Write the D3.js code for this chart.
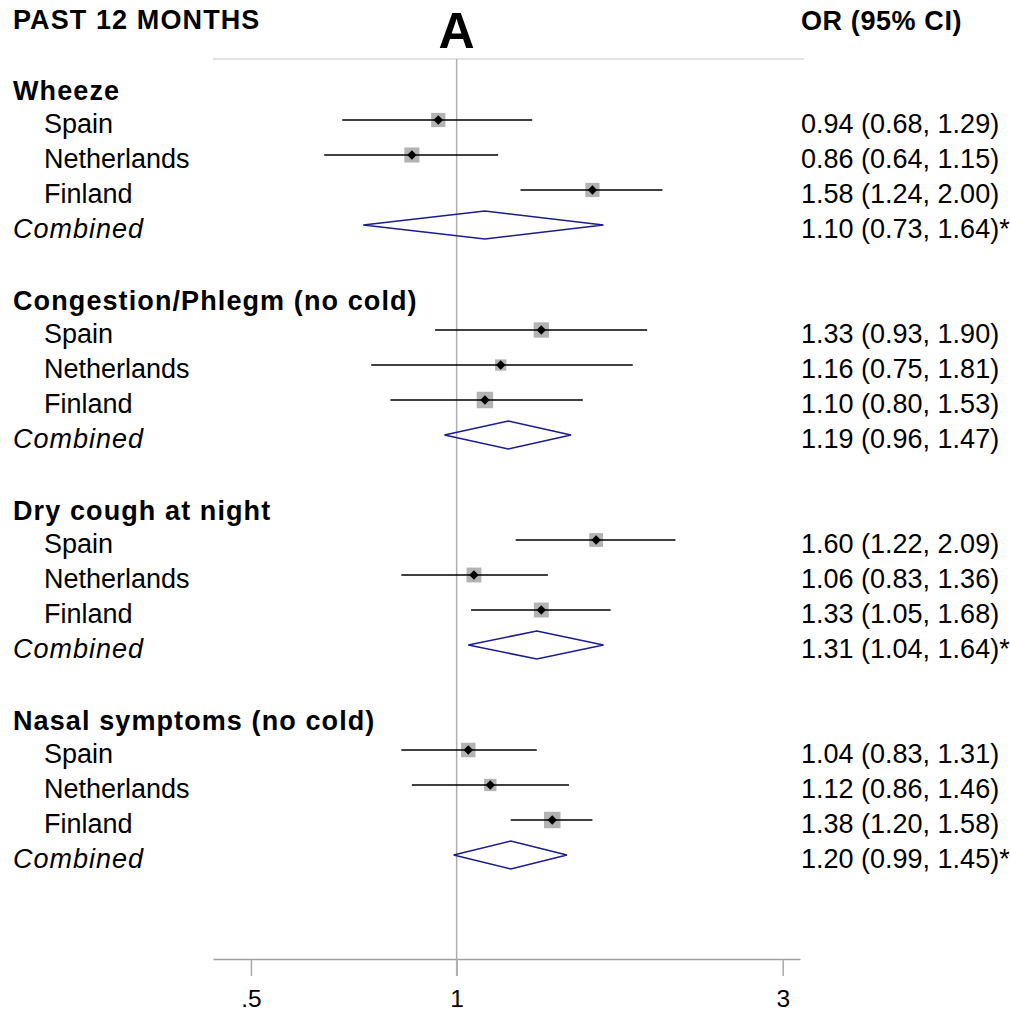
<!DOCTYPE html>
<html>
<head>
<meta charset="utf-8">
<script src="https://cdn.jsdelivr.net/npm/d3@7"></script>
<style>
  html, body { margin: 0; padding: 0; background: #fff; }
  svg { display: block; font-family: Arial, "Liberation Sans", Helvetica, sans-serif; }
</style>
</head>
<body>
<svg id="chart" width="1010" height="1011"></svg>
<script>
// Outcomes (groups) and countries
const outcomes = ["Wheeze", "Congestion/Phlegm (no cold)", "Dry cough at night", "Nasal symptoms (no cold)"];
const countries = ["Spain", "Netherlands", "Finland"];

// Odds ratios and 95% CI per outcome x country
const orEst  = [[0.94, 0.86, 1.58], [1.33, 1.16, 1.10], [1.60, 1.06, 1.33], [1.04, 1.12, 1.38]];
const ciLow  = [[0.68, 0.64, 1.24], [0.93, 0.75, 0.80], [1.22, 0.83, 1.05], [0.83, 0.86, 1.20]];
const ciHigh = [[1.29, 1.15, 2.00], [1.90, 1.81, 1.53], [2.09, 1.36, 1.68], [1.31, 1.46, 1.58]];
// Study weights (%) within each outcome
const weights = [[32, 36, 32], [37, 20, 43], [30, 35, 35], [33, 24, 43]];

// Pooled estimates
const combinedOR   = [1.10, 1.19, 1.31, 1.20];
const combinedLow  = [0.73, 0.96, 1.04, 0.99];
const combinedHigh = [1.64, 1.47, 1.64, 1.45];
const combinedMark = ["*", "", "*", "*"];

// Axis ticks
const tickValues = [0.5, 1, 3];
const tickLabels = [".5", "1", "3"];

const svg = d3.select("#chart");
const fmt = d3.format(".2f");

const x = d3.scaleLog().domain([0.44, 3.18]).range([213, 800]);
const rowsPerGroup = 6;
const y = d3.scaleLinear().domain([0, 1]).range([85, 120]); // row index -> y
const size = d3.scaleSqrt().domain([0, 43]).range([0, 16.5]);

const font = 27;
const labelX = 801;

// Titles
svg.append("text").attr("x", 13).attr("y", 29)
  .attr("font-size", font).attr("font-weight", "bold").attr("letter-spacing", 1.1)
  .text("PAST 12 MONTHS");
svg.append("text").attr("x", x(1)).attr("y", 48).attr("text-anchor", "middle")
  .attr("font-size", 50).attr("font-weight", "bold")
  .text("A");
svg.append("text").attr("x", labelX).attr("y", 30)
  .attr("font-size", font).attr("font-weight", "bold").attr("letter-spacing", 0.6)
  .text("OR (95% CI)");

// Top rule
svg.append("line").attr("x1", 213).attr("x2", 804).attr("y1", 59).attr("y2", 59)
  .attr("stroke", "#e2e2e2").attr("stroke-width", 2);

// Bottom axis
const axisY = 959;
const axis = svg.append("g").attr("transform", `translate(0,${axisY})`)
  .call(d3.axisBottom(x).tickValues(tickValues)
    .tickFormat((d, i) => tickLabels[i]).tickSize(17).tickSizeOuter(0).tickPadding(14));
axis.select(".domain").attr("stroke", "#a0a0a0").attr("stroke-width", 1.5);
axis.selectAll(".tick line").attr("stroke", "#a8a8a8").attr("stroke-width", 1.5);
axis.selectAll(".tick text").attr("font-size", 24.5).attr("fill", "#000")
  .attr("font-family", "Arial, \"Liberation Sans\", sans-serif").attr("dy", "0.71em");

// Reference line at OR = 1
svg.append("line").attr("x1", x(1)).attr("x2", x(1)).attr("y1", 59).attr("y2", axisY + 17)
  .attr("stroke", "#b0b0b0").attr("stroke-width", 1.5);

// Small black diamond at each point estimate (a square turned 45 degrees)
const pointMarker = d3.symbol().type(d3.symbolSquare).size(44);

outcomes.forEach((name, g) => {
  const base = g * rowsPerGroup;
  // Group heading
  svg.append("text").attr("x", 13).attr("y", y(base) + 15)
    .attr("font-size", font).attr("font-weight", "bold").attr("letter-spacing", 1.1)
    .text(name);

  countries.forEach((c, i) => {
    const ry = y(base + 1 + i);
    svg.append("text").attr("x", 44).attr("y", ry + 13).attr("font-size", font).text(c);

    const s = size(weights[g][i]);
    svg.append("rect").attr("x", x(orEst[g][i]) - s / 2).attr("y", ry - s / 2)
      .attr("width", s).attr("height", s).attr("fill", "#b3b3b3");
    svg.append("line").attr("x1", x(ciLow[g][i])).attr("x2", x(ciHigh[g][i]))
      .attr("y1", ry).attr("y2", ry).attr("stroke", "#000").attr("stroke-width", 1.4);
    svg.append("path").attr("d", pointMarker)
      .attr("transform", `translate(${x(orEst[g][i])},${ry}) rotate(45)`).attr("fill", "#000");

    svg.append("text").attr("x", labelX).attr("y", ry + 13).attr("font-size", font)
      .text(`${fmt(orEst[g][i])} (${fmt(ciLow[g][i])}, ${fmt(ciHigh[g][i])})`);
  });

  // Pooled estimate
  const cy = y(base + 4);
  svg.append("text").attr("x", 13).attr("y", cy + 13).attr("font-size", font)
    .attr("font-style", "italic").attr("letter-spacing", 1.0).text("Combined");
  const pts = [
    [x(combinedLow[g]), cy],
    [x(combinedOR[g]), cy - 14],
    [x(combinedHigh[g]), cy],
    [x(combinedOR[g]), cy + 14]
  ];
  svg.append("path").attr("d", d3.line()(pts) + "Z")
    .attr("fill", "none").attr("stroke", "#1c1c8a").attr("stroke-width", 1.5);
  svg.append("text").attr("x", labelX).attr("y", cy + 13).attr("font-size", font)
    .text(`${fmt(combinedOR[g])} (${fmt(combinedLow[g])}, ${fmt(combinedHigh[g])})${combinedMark[g]}`);
});
</script>
</body>
</html>
